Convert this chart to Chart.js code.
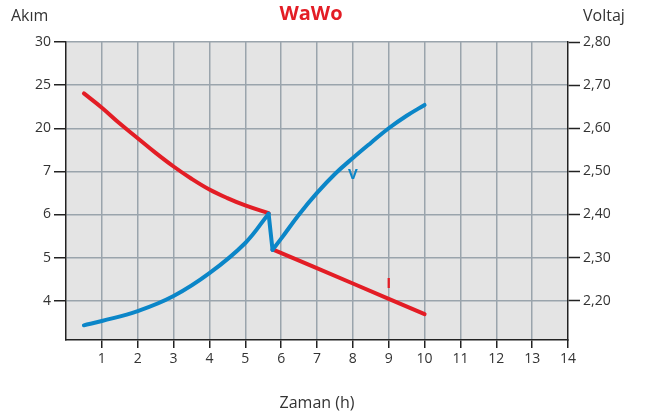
<!DOCTYPE html>
<html>
<head>
<meta charset="utf-8">
<script src="https://cdn.jsdelivr.net/npm/chart.js@4.4.1/dist/chart.umd.min.js"></script>
<style>
    html, body { margin: 0; padding: 0; background: #fff; }
    #wrap { width: 660px; height: 419px; }
</style>
</head>
<body>
<div id="wrap"><canvas id="wawoChart" width="660" height="419"></canvas></div>
<script>
// Tick labels of the three axes
const timeTicks = [0, 1, 2, 3, 4, 5, 6, 7, 8, 9, 10, 11, 12, 13, 14];
const akimTicks = [4, 5, 6, 7, 20, 25, 30];          // left axis, bottom to top
const voltTicks = [2.2, 2.3, 2.4, 2.5, 2.6, 2.7, 2.8]; // right axis

// Akım (I) curve
const akimTime   = [0.5, 1, 1.5, 2, 2.5, 3, 3.5, 4, 4.5, 5, 5.65, 5.76, 8, 10];
const akimValues = [24.04, 22.38, 20.55, 17.0, 12.58, 8.47, 6.83, 6.58, 6.38, 6.21, 6.03, 5.19, 4.40, 3.69];
const akimDrop = 10; // index of the last point before the drop

// Voltaj (V) curve
const voltTime   = [0.5, 1, 2, 3, 4, 5, 5.65, 5.76, 6, 6.5, 7, 7.5, 8, 8.5, 9, 9.5, 10];
const voltValues = [2.143, 2.153, 2.176, 2.211, 2.264, 2.334, 2.402, 2.318, 2.344, 2.40, 2.45, 2.494, 2.531, 2.566, 2.60, 2.629, 2.654];
const voltDrop = 6; // index of the peak before the drop

// Series label positions
const vLabel = { x: 8, y: 2.492 };
const iLabel = { x: 9, y: 4.40 };

const RED = '#e31d25';
const BLUE = '#0b86c8';
const GRID = '#9aa4ac';
const TEXT = '#333333';
const FONT = "'Open Sans', sans-serif";

// The left axis is not linear: each labelled value sits one grid step above the previous one
function akimToLevel(v) {
    for (let i = 0; i < akimTicks.length - 1; i++) {
        if (v <= akimTicks[i + 1] || i === akimTicks.length - 2) {
            return i + 1 + (v - akimTicks[i]) / (akimTicks[i + 1] - akimTicks[i]);
        }
    }
}

const levelMin = 0.09;
const voltMin = voltTicks[0] - (1 - levelMin) * (voltTicks[1] - voltTicks[0]);

function pts(xs, ys, from, to, conv) {
    const out = [];
    for (let i = from; i <= to; i++) {
        out.push({ x: xs[i], y: conv ? conv(ys[i]) : ys[i] });
    }
    return out;
}

const lineStyle = {
    borderWidth: 4,
    pointRadius: 0,
    fill: false,
    borderCapStyle: 'round',
    borderJoinStyle: 'round',
    tension: 0.4
};

// blue first so it is drawn over the red at the drop
const datasets = [
    Object.assign({ data: pts(voltTime, voltValues, 0, voltDrop), borderColor: BLUE, yAxisID: 'yV' }, lineStyle),
    Object.assign({ data: pts(voltTime, voltValues, voltDrop, voltDrop + 1), borderColor: BLUE, yAxisID: 'yV' }, lineStyle),
    Object.assign({ data: pts(voltTime, voltValues, voltDrop + 1, voltTime.length - 1), borderColor: BLUE, yAxisID: 'yV' }, lineStyle),
    Object.assign({ data: pts(akimTime, akimValues, 0, akimDrop, akimToLevel), borderColor: RED, yAxisID: 'y' }, lineStyle),
    Object.assign({ data: pts(akimTime, akimValues, akimDrop + 1, akimTime.length - 1, akimToLevel), borderColor: RED, yAxisID: 'y' }, lineStyle)
];

// Grey plot background and all the free text
const decor = {
    id: 'decor',
    beforeDraw(chart) {
        const ctx = chart.ctx, a = chart.chartArea;
        ctx.save();
        ctx.fillStyle = '#ffffff';
        ctx.fillRect(0, 0, chart.width, chart.height);
        ctx.fillStyle = '#e4e4e4';
        ctx.fillRect(a.left, a.top, a.right - a.left, a.bottom - a.top);
        ctx.restore();
    },
    afterDraw(chart) {
        const ctx = chart.ctx, a = chart.chartArea;
        const sx = chart.scales.x, sy = chart.scales.y, sv = chart.scales.yV;
        ctx.save();
        ctx.textBaseline = 'alphabetic';

        ctx.fillStyle = RED;
        ctx.font = 'bold 20px ' + FONT;
        ctx.textAlign = 'center';
        ctx.fillText('WaWo', 311, 20);

        ctx.fillStyle = TEXT;
        ctx.font = '16px ' + FONT;
        ctx.textAlign = 'left';
        ctx.fillText('Akım', 11, 21);
        ctx.fillText('Voltaj', 583, 21);

        ctx.font = '16px ' + FONT;
        ctx.textAlign = 'center';
        ctx.fillText('Zaman (h)', (a.left + a.right) / 2, 408);

        ctx.font = 'bold 15px ' + FONT;
        ctx.textBaseline = 'middle';
        ctx.fillStyle = BLUE;
        ctx.fillText('V', sx.getPixelForValue(vLabel.x), sv.getPixelForValue(vLabel.y));
        ctx.fillStyle = RED;
        ctx.fillText('I', sx.getPixelForValue(iLabel.x), sy.getPixelForValue(akimToLevel(iLabel.y)));
        ctx.restore();
    }
};

new Chart(document.getElementById('wawoChart'), {
    type: 'line',
    data: { datasets: datasets },
    options: {
        responsive: false,
        animation: false,
        layout: { padding: { top: 42, left: 0, right: 0, bottom: 0 } },
        plugins: {
            legend: { display: false },
            title: { display: false },
            tooltip: { enabled: false }
        },
        scales: {
            x: {
                type: 'linear',
                min: timeTicks[0],
                max: timeTicks[timeTicks.length - 1],
                afterBuildTicks: s => { s.ticks = timeTicks.map(v => ({ value: v })); },
                afterFit: s => { s.height = 79; },
                ticks: {
                    color: TEXT,
                    font: { family: FONT, size: 14 },
                    padding: 3,
                    maxRotation: 0,
                    callback: v => (v === 0 ? '' : String(v))
                },
                grid: {
                    color: c => (c.index === 0 || c.index === timeTicks.length - 1 ? 'rgba(0,0,0,0)' : GRID),
                    lineWidth: 1.5,
                    tickLength: 8,
                    tickColor: c => (c.index === 0 ? 'rgba(0,0,0,0)' : '#222'),
                    tickWidth: 1.5
                },
                border: { color: '#222', width: 1.5 }
            },
            y: {
                type: 'linear',
                position: 'left',
                min: levelMin,
                max: akimTicks.length,
                afterBuildTicks: s => { s.ticks = akimTicks.map((v, i) => ({ value: i + 1 })); },
                afterFit: s => { s.width = 66; },
                ticks: {
                    color: TEXT,
                    font: { family: FONT, size: 14 },
                    padding: 3,
                    callback: v => String(akimTicks[Math.round(v) - 1])
                },
                grid: {
                    color: GRID,
                    lineWidth: 1.5,
                    tickLength: 12,
                    tickColor: '#222',
                    tickWidth: 1.5
                },
                border: { color: '#222', width: 1.5 }
            },
            yV: {
                type: 'linear',
                position: 'right',
                min: voltMin,
                max: voltTicks[voltTicks.length - 1],
                afterBuildTicks: s => { s.ticks = voltTicks.map(v => ({ value: v })); },
                afterFit: s => { s.width = 92; },
                ticks: {
                    color: TEXT,
                    font: { family: FONT, size: 14 },
                    padding: 3,
                    callback: v => v.toFixed(2).replace('.', ',')
                },
                grid: {
                    drawOnChartArea: false,
                    tickLength: 12,
                    tickColor: '#222',
                    tickWidth: 1.5
                },
                border: { color: '#222', width: 1.5 }
            }
        }
    },
    plugins: [decor]
});
</script>
</body>
</html>
